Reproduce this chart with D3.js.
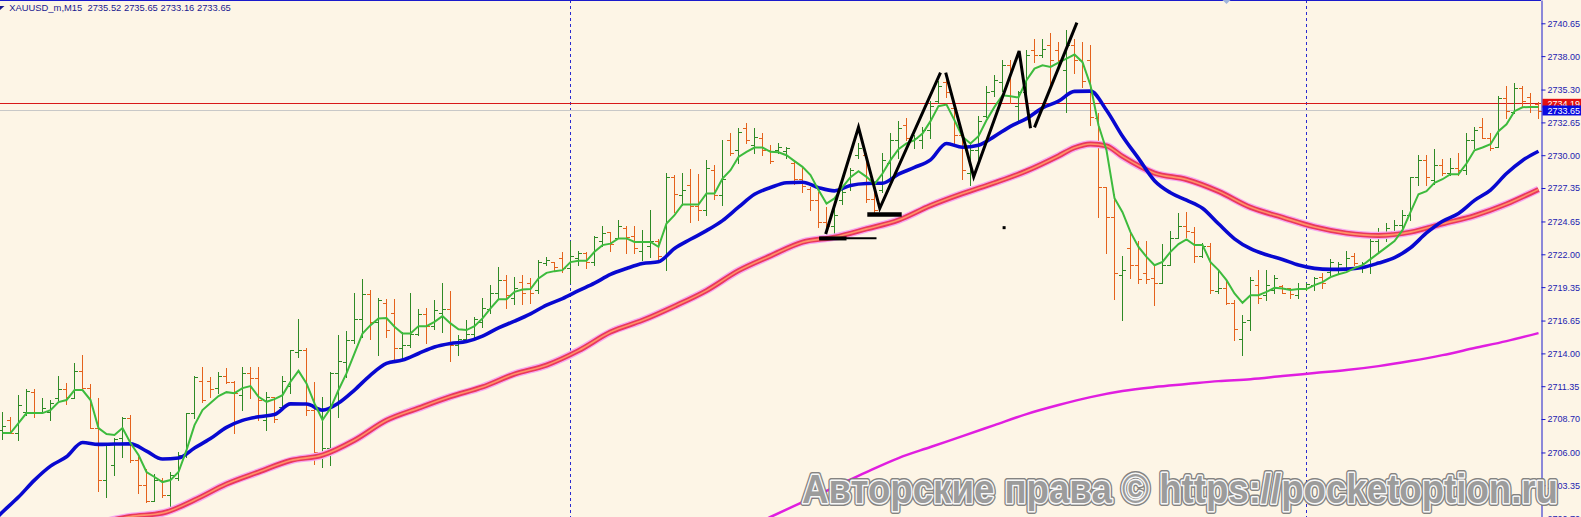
<!DOCTYPE html>
<html><head><meta charset="utf-8">
<script src="https://cdn.jsdelivr.net/npm/d3@7"></script>
<style>html,body{margin:0;padding:0;background:#fdf5e6;overflow:hidden}</style>
</head><body><svg id="c" width="1581" height="517"></svg>
<script>
const symbolTitle = "XAUUSD_m,M15  2735.52 2735.65 2733.16 2733.65";
const priceTicks = [2740.65,2738.00,2735.30,2732.65,2730.00,2727.35,2724.65,2722.00,2719.35,2716.65,2714.00,2711.35,2708.70,2706.00,2703.35,2700.70];
const askPrice = 2734.19;
const bidPrice = 2733.65;
const daySeparators = [71, 163];

const barOpen = [
2707.8,2708.6,2707.6,2709.3,2710.9,2709.3,2709.3,2710.4,2711.1,2710.4,
2712.6,2711.2,2708.0,2703.8,2705.0,2707.2,2708.8,2705.4,2703.4,2702.1,
2703.8,2702.6,2703.9,2705.8,2709.2,2711.8,2711.8,2711.2,2712.2,2711.7,
2710.6,2712.4,2712.0,2708.6,2710.5,2709.7,2711.4,2714.1,2714.3,2709.4,
2706.0,2706.4,2712.4,2713.3,2715.1,2716.8,2718.8,2716.5,2718.1,2717.3,
2714.4,2714.7,2715.6,2717.2,2716.2,2717.3,2717.6,2714.7,2715.2,2715.6,
2716.5,2717.6,2718.9,2719.9,2718.5,2719.8,2719.7,2719.1,2721.3,2721.4,
2721.7,2720.9,2721.7,2722.1,2721.4,2723.1,2723.8,2723.3,2724.1,2723.5,
2722.3,2722.7,2723.1,2721.7,2728.2,2726.8,2727.6,2725.9,2725.6,2728.8,
2726.8,2731.2,2730.4,2732.2,2730.8,2731.4,2730.4,2730.4,2730.3,2729.4,
2728.1,2727.3,2726.4,2724.6,2724.3,2726.4,2727.6,2730.0,2730.0,2726.5,
2727.2,2729.4,2731.2,2732.4,2731.2,2731.2,2732.0,2734.4,2735.9,2733.8,
2731.6,2728.6,2730.4,2733.2,2735.2,2735.9,2737.3,2734.0,2735.1,2738.5,
2738.1,2738.9,2738.5,2736.9,2738.9,2737.7,2737.7,2733.0,2727.4,2725.0,
2720.3,2722.5,2721.1,2720.5,2720.1,2719.7,2721.1,2723.3,2724.3,2723.8,
2721.9,2722.7,2719.0,2719.3,2718.1,2715.2,2716.7,2719.5,2718.7,2719.1,
2719.4,2719.3,2718.7,2719.3,2719.5,2720.2,2720.6,2720.7,2720.9,2721.9,
2721.0,2721.1,2723.1,2723.8,2723.9,2724.4,2725.2,2728.2,2729.6,2728.0,
2729.2,2728.6,2729.0,2728.8,2731.2,2732.3,2731.4,2730.7,2734.6,2733.5,
2735.4,2734.7,2734.1];
const barHigh = [
2709.3,2708.9,2710.6,2711.1,2711.1,2710.4,2710.2,2712.2,2711.6,2713.2,
2713.9,2711.5,2710.4,2706.8,2707.2,2708.9,2709.0,2705.6,2704.7,2704.3,
2703.9,2704.4,2706.0,2709.2,2712.2,2712.9,2712.1,2712.5,2712.8,2711.8,
2712.9,2712.9,2712.9,2710.9,2710.5,2712.2,2714.3,2716.8,2714.4,2711.7,
2710.5,2712.5,2715.5,2715.8,2718.9,2720.0,2719.1,2718.5,2718.4,2718.4,
2715.7,2718.9,2717.6,2717.7,2718.3,2719.7,2719.0,2715.5,2716.7,2716.9,
2718.5,2719.5,2721.0,2720.3,2720.2,2720.3,2720.1,2721.5,2721.8,2721.4,
2722.2,2723.1,2722.3,2722.2,2723.5,2724.3,2723.8,2724.8,2724.3,2724.3,
2724.0,2725.6,2723.2,2728.6,2728.4,2728.6,2728.9,2728.5,2729.6,2729.2,
2731.2,2731.8,2732.2,2732.6,2732.2,2731.8,2730.8,2731.0,2730.7,2729.6,
2729.0,2727.4,2727.0,2725.8,2726.1,2727.2,2729.0,2731.0,2730.2,2727.0,
2730.2,2731.8,2732.8,2733.0,2731.6,2732.3,2734.4,2736.0,2736.5,2734.0,
2731.8,2731.0,2733.2,2735.6,2736.5,2737.7,2737.7,2735.2,2738.5,2739.4,
2739.4,2739.9,2739.1,2740.1,2739.4,2739.1,2738.9,2733.4,2727.4,2726.9,
2721.9,2723.8,2723.1,2723.1,2721.1,2722.8,2723.9,2725.3,2725.4,2724.2,
2722.9,2722.9,2720.7,2719.9,2718.3,2717.1,2720.2,2720.7,2720.7,2720.3,
2719.5,2719.3,2719.7,2719.7,2720.2,2720.5,2721.6,2721.4,2722.3,2722.1,
2721.4,2723.3,2724.1,2724.5,2724.8,2725.6,2728.2,2730.0,2730.0,2730.5,
2729.7,2729.8,2730.2,2731.8,2732.3,2733.0,2731.8,2734.8,2735.6,2735.8,
2735.6,2735.0,2734.3];
const barLow = [
2707.1,2707.6,2707.0,2709.0,2708.9,2709.2,2708.6,2710.2,2709.9,2710.4,
2711.1,2708.0,2702.9,2702.4,2704.2,2705.6,2705.2,2702.7,2702.0,2702.1,
2702.4,2701.5,2703.8,2705.6,2708.8,2710.1,2710.5,2710.8,2711.6,2707.6,
2709.4,2710.4,2708.6,2707.8,2708.5,2709.7,2710.8,2713.7,2709.0,2705.1,
2704.8,2705.0,2708.9,2712.1,2714.8,2715.3,2715.2,2713.9,2715.3,2713.4,
2713.6,2714.5,2715.5,2714.8,2716.0,2715.7,2713.4,2713.9,2715.1,2715.3,
2716.1,2717.3,2718.5,2717.7,2718.0,2718.0,2718.1,2718.9,2721.1,2720.7,
2720.6,2719.7,2721.1,2720.9,2721.1,2722.7,2722.3,2723.3,2722.1,2722.1,
2721.5,2721.8,2721.5,2720.7,2725.4,2726.0,2724.6,2724.8,2725.2,2726.5,
2726.0,2730.0,2729.4,2731.0,2730.2,2730.0,2729.4,2730.2,2729.8,2727.7,
2727.0,2725.6,2724.2,2723.9,2723.5,2726.1,2727.2,2729.8,2726.2,2725.3,
2727.0,2728.2,2729.8,2731.2,2730.6,2730.6,2731.4,2734.2,2734.7,2731.0,
2728.1,2727.6,2729.6,2733.1,2734.8,2735.2,2734.2,2732.8,2734.7,2737.5,
2737.9,2735.5,2737.3,2733.5,2736.6,2735.5,2732.4,2725.0,2722.1,2718.4,
2716.7,2720.1,2719.7,2719.7,2717.9,2719.7,2721.1,2723.3,2723.4,2721.4,
2721.8,2718.9,2718.9,2718.0,2715.1,2713.9,2715.9,2718.1,2718.3,2718.9,
2718.9,2718.5,2718.5,2719.1,2719.1,2719.3,2720.3,2720.5,2720.9,2721.1,
2720.6,2720.5,2722.3,2723.1,2723.7,2723.9,2724.8,2727.6,2727.6,2727.7,
2728.4,2728.4,2728.4,2728.5,2730.6,2731.4,2730.4,2730.7,2733.0,2733.4,
2734.0,2733.5,2733.0];
const barClose = [
2708.1,2707.6,2709.8,2711.0,2709.2,2709.6,2710.0,2711.1,2710.5,2712.6,
2711.2,2708.0,2703.8,2706.6,2707.1,2708.8,2705.4,2703.4,2702.1,2703.8,
2702.6,2704.2,2705.8,2709.2,2712.1,2710.2,2711.1,2712.2,2711.7,2710.8,
2712.4,2712.0,2710.2,2710.5,2708.7,2711.8,2714.3,2714.3,2709.4,2706.0,
2706.4,2712.4,2713.4,2715.1,2716.8,2718.8,2716.5,2718.3,2715.9,2714.4,
2714.7,2715.6,2717.2,2716.2,2717.5,2717.6,2714.7,2715.2,2715.6,2716.8,
2717.7,2718.9,2719.9,2718.7,2719.3,2718.9,2718.9,2721.4,2721.5,2721.0,
2720.9,2721.9,2722.1,2721.4,2723.4,2723.7,2722.8,2724.3,2723.4,2722.5,
2723.0,2723.1,2721.9,2728.2,2726.9,2727.2,2725.9,2725.6,2729.0,2726.8,
2728.1,2730.2,2731.9,2731.2,2731.5,2730.4,2729.5,2730.7,2730.6,2728.1,
2727.5,2726.4,2724.6,2724.3,2725.2,2727.0,2728.8,2730.6,2726.5,2725.6,
2729.6,2731.2,2732.2,2731.4,2731.4,2732.0,2734.0,2735.6,2735.1,2731.6,
2728.8,2730.4,2732.8,2735.1,2736.1,2737.3,2734.8,2735.1,2738.1,2738.1,
2738.6,2737.7,2737.7,2738.9,2737.7,2736.0,2733.1,2727.4,2725.0,2720.5,
2720.7,2721.1,2720.0,2720.0,2719.7,2721.1,2723.3,2724.3,2723.9,2721.9,
2722.7,2719.1,2719.3,2718.1,2716.0,2716.5,2719.9,2718.5,2719.5,2720.1,
2718.9,2718.8,2719.3,2719.6,2720.1,2719.7,2721.4,2721.2,2721.7,2721.3,
2721.3,2723.1,2723.8,2724.1,2724.4,2725.2,2728.2,2729.6,2728.2,2729.2,
2728.6,2729.0,2728.8,2731.2,2732.0,2731.4,2730.6,2734.6,2733.6,2735.4,
2734.4,2733.9,2733.6];

// fast moving average (green), one value per bar
const emaFast = [
2707.57,2707.57,2708.37,2709.18,2709.18,2709.18,2709.42,2710.07,2710.23,2711.04,
2711.04,2710.23,2707.97,2707.49,2707.41,2707.97,2706.76,2705.79,2704.42,2704.02,
2703.61,2703.77,2704.42,2706.19,2708.21,2709.42,2709.99,2710.55,2710.87,2710.79,
2711.2,2711.36,2710.5,2710.09,2710.31,2710.63,2711.71,2712.59,2711.58,2709.96,
2708.62,2709.56,2711.04,2712.38,2714.0,2715.61,2716.28,2716.82,2716.85,2716.15,
2715.61,2715.61,2716.2,2716.2,2716.55,2717.01,2716.42,2715.94,2715.88,2716.2,
2716.82,2717.63,2718.36,2718.36,2718.97,2719.16,2719.19,2720.05,2720.5,2720.64,
2720.72,2721.37,2721.47,2721.47,2722.2,2722.74,2722.86,2723.28,2723.28,2723.0,
2723.0,2723.0,2722.6,2724.49,2725.16,2726.02,2726.02,2726.02,2726.91,2726.91,
2728.12,2728.79,2729.86,2730.27,2730.62,2730.62,2730.27,2730.24,2730.0,2729.52,
2729.06,2728.39,2727.18,2726.1,2726.51,2727.42,2728.23,2728.71,2728.25,2727.66,
2728.52,2729.6,2730.49,2730.95,2731.21,2731.74,2732.75,2733.96,2734.09,2732.82,
2731.48,2730.95,2731.53,2732.82,2733.9,2734.84,2734.76,2734.66,2736.05,2736.99,
2737.26,2737.13,2737.47,2737.8,2738.13,2737.51,2735.65,2732.42,2730.4,2726.53,
2725.4,2723.79,2722.6,2721.79,2721.12,2721.39,2722.2,2722.82,2723.2,2722.74,
2722.74,2721.37,2720.72,2719.91,2718.84,2718.08,2718.7,2718.7,2718.97,2719.29,
2719.24,2719.11,2719.19,2719.19,2719.51,2719.75,2720.16,2720.39,2720.56,2720.88,
2721.12,2721.61,2722.09,2722.58,2723.06,2723.95,2725.4,2726.85,2727.09,2727.77,
2728.06,2728.47,2728.47,2729.33,2730.4,2730.62,2730.89,2731.94,2732.5,2733.55,
2733.87,2733.9,2733.9];

// medium moving average (blue): [bar, price]
const emaMid = [
[-2,2699.9],[0,2701.19],[2,2702.4],[4,2703.77],[6,2704.9],[8,2705.65],[10,2706.8],[12,2706.65],[14,2706.68],[16,2706.69],
[18,2706.11],[20,2705.47],[22,2705.55],[24,2706.36],[26,2707.12],[28,2708.03],[30,2708.59],[32,2708.88],[34,2709.06],[36,2709.92],
[38,2709.91],[40,2709.42],[42,2709.99],[44,2711.04],[46,2712.25],[48,2713.19],[50,2713.46],[52,2713.99],[54,2714.52],[56,2714.8],
[58,2714.95],[60,2715.39],[62,2716.06],[64,2716.6],[66,2717.19],[68,2717.9],[70,2718.42],[72,2719.06],[74,2719.67],[76,2720.37],
[78,2720.85],[80,2721.25],[82,2721.39],[84,2722.46],[86,2723.21],[88,2723.91],[90,2724.72],[92,2725.8],[94,2726.84],[96,2727.39],
[98,2727.78],[100,2727.82],[102,2727.38],[104,2727.12],[106,2727.56],[108,2727.72],[110,2727.74],[112,2728.47],[114,2729.01],[116,2729.62],
[118,2730.95],[120,2730.64],[122,2730.81],[124,2731.52],[126,2732.33],[128,2732.95],[130,2733.82],[132,2734.36],[134,2735.15],[136,2735.17],
[138,2733.63],[140,2731.53],[142,2729.74],[144,2727.94],[146,2726.97],[148,2726.37],[150,2725.72],[152,2724.46],[154,2723.25],[156,2722.45],
[158,2721.96],[160,2721.58],[162,2721.13],[164,2720.86],[166,2720.78],[168,2720.8],[170,2720.93],[172,2721.29],[174,2721.73],[176,2722.53],
[178,2723.72],[180,2724.67],[182,2725.3],[184,2726.35],[186,2727.19],[188,2728.52],[190,2729.58],[192,2730.32]];

// slow moving average (red): [bar, price]
const emaSlow = [
[12,2700.30],[16,2700.83],[20,2701.11],[24,2702.16],[28,2703.45],[32,2704.42],[36,2705.35],[40,2705.79],[44,2706.99],[48,2708.6],
[52,2709.58],[56,2710.51],[60,2711.29],[64,2712.33],[68,2713.05],[72,2714.22],[76,2715.72],[80,2716.67],[84,2717.81],[88,2719.07],
[92,2720.68],[96,2721.87],[100,2722.98],[104,2723.38],[108,2724.05],[112,2724.76],[116,2725.93],[120,2726.9],[124,2727.77],[128,2728.73],
[132,2729.94],[134,2730.6],[136,2730.91],[138,2730.75],[140,2729.9],[144,2728.55],[148,2728.04],[152,2727.08],[156,2725.79],[160,2724.98],
[164,2724.21],[168,2723.71],[172,2723.52],[176,2723.79],[180,2724.46],[184,2725.12],[188,2726.06],[192,2727.24]];

// long moving average (magenta): [bar, price]
const emaLong = [
[92,2699.58],[96,2700.79],[100,2702.0],[104,2703.21],[108,2704.42],[112,2705.55],[116,2706.44],[120,2707.32],[124,2708.21],[128,2709.1],
[132,2709.83],[136,2710.47],[140,2710.96],[144,2711.28],[148,2711.52],[152,2711.76],[156,2711.92],[160,2712.17],[164,2712.41],[168,2712.65],
[172,2712.97],[176,2713.38],[180,2713.86],[184,2714.43],[188,2714.99],[192,2715.64]];

// hand-drawn annotations: [bar, price]
const drawnZigzags = [
[[102.9,2723.64],[107.0,2732.25],[109.66,2725.71],[117.25,2736.66]],
[[117.9,2736.66],[121.4,2728.26],[127.08,2738.41],[128.5,2732.17]],
[[129.0,2732.25],[134.3,2740.70]]];
const drawnLevels = [[102.08,109.25,2723.29],[102.08,105.5,2723.28],[108.1,112.4,2725.21]];
const drawnDot = [125.2,2724.15];
const watermark = "Авторские права © https://pocketoption.ru";

// ---------- drawing ----------
const W = 1581, H = 517, plotRight = 1541;
const svg = d3.select('#c');
const x = d3.scaleLinear().domain([0, 192]).range([2.5, 1538.5]);
const y = d3.scaleLinear().domain([2700.79, 2742.53]).range([H, 0]);
const px = v => Math.floor(x(v)) + 0.5;
const py = v => Math.round(y(v)) + 0.5;

svg.append('rect').attr('width', W).attr('height', H).attr('fill', '#fdf5e6');

const plot = svg.append('g');
// day separators
plot.selectAll('line.sep').data(daySeparators).join('line')
  .attr('x1', d => px(d)).attr('x2', d => px(d)).attr('y1', 0).attr('y2', H)
  .attr('stroke', '#2a2ad0').attr('stroke-width', 1).attr('stroke-dasharray', '3,3');

// bid/ask lines
plot.append('line').attr('x1', 0).attr('x2', plotRight).attr('y1', py(bidPrice)).attr('y2', py(bidPrice))
  .attr('stroke', '#c8c8c8').attr('stroke-width', 1);
plot.append('line').attr('x1', 0).attr('x2', plotRight).attr('y1', py(askPrice)).attr('y2', py(askPrice))
  .attr('stroke', '#d81818').attr('stroke-width', 1);

// OHLC bars
const bars = d3.range(barOpen.length).map(i => ({i, o: barOpen[i], h: barHigh[i], l: barLow[i], c: barClose[i]}));
const bg = plot.append('g').attr('stroke-width', 1);
bars.forEach(b => {
  const col = b.c >= b.o ? '#2f8a26' : '#e4621c';
  const cx = px(b.i);
  const g = bg.append('g').attr('stroke', col);
  g.append('line').attr('x1', cx).attr('x2', cx).attr('y1', Math.round(y(b.h))).attr('y2', Math.round(y(b.l)) + 1);
  g.append('line').attr('x1', cx - 3.5).attr('x2', cx).attr('y1', py(b.o)).attr('y2', py(b.o));
  g.append('line').attr('x1', cx).attr('x2', cx + 3.5).attr('y1', py(b.c)).attr('y2', py(b.c));
});

// moving averages
const lineP = d3.line().x(d => x(d[0])).y(d => y(d[1])).curve(d3.curveMonotoneX);
plot.append('path').attr('d', lineP(emaLong)).attr('fill', 'none').attr('stroke', '#e01ee0').attr('stroke-width', 2.5);
plot.append('path').attr('d', lineP(emaSlow)).attr('fill', 'none').attr('stroke', '#f6a6f0').attr('stroke-width', 7.5);
plot.append('path').attr('d', lineP(emaSlow)).attr('fill', 'none').attr('stroke', '#e8385c').attr('stroke-width', 5);
plot.append('path').attr('d', lineP(emaSlow)).attr('fill', 'none').attr('stroke', '#ff9466').attr('stroke-width', 1.6);
plot.append('path').attr('d', lineP(emaMid)).attr('fill', 'none').attr('stroke', '#0808d0').attr('stroke-width', 3.6);
const lineF = d3.line().x((d, i) => x(i)).y(d => y(d));
plot.append('path').attr('d', lineF(emaFast)).attr('fill', 'none').attr('stroke', '#3dbb3d').attr('stroke-width', 2);

// annotations
const lineA = d3.line().x(d => x(d[0])).y(d => y(d[1]));
drawnZigzags.forEach(z => plot.append('path').attr('d', lineA(z)).attr('fill', 'none')
  .attr('stroke', '#000').attr('stroke-width', 3).attr('stroke-linejoin', 'miter'));
const levelWidths = [2, 4, 4.5];
drawnLevels.forEach((l, k) => plot.append('line').attr('x1', x(l[0])).attr('x2', x(l[1]))
  .attr('y1', y(l[2])).attr('y2', y(l[2])).attr('stroke', '#000').attr('stroke-width', levelWidths[k]));
plot.append('rect').attr('x', x(drawnDot[0]) - 1.5).attr('y', y(drawnDot[1]) - 1.5).attr('width', 3).attr('height', 3).attr('fill', '#000');

// top border
svg.append('line').attr('x1', 0).attr('x2', plotRight).attr('y1', 0.5).attr('y2', 0.5).attr('stroke', '#1a1acc');
// small marker at top
svg.append('path').attr('d', `M${x(153) - 4},0L${x(153) + 4},0L${x(153)},4Z`).attr('fill', '#9fb4dc');

// price axis
const axis = d3.axisRight(y).tickValues(priceTicks).tickSize(4).tickSizeOuter(0).tickPadding(2)
  .tickFormat(d3.format('.2f'));
const ag = svg.append('g').attr('transform', `translate(${plotRight + 0.5},0)`).call(axis)
  .attr('font-family', '"Liberation Sans", Arial, sans-serif').attr('font-size', 9);
ag.select('.domain').attr('stroke', '#1a1acc');
ag.selectAll('.tick line').attr('stroke', '#1a1acc');
ag.selectAll('.tick text').attr('fill', '#1c1cb0');

// price labels
const tagFont = '"Liberation Sans", Arial, sans-serif';
svg.append('rect').attr('x', plotRight + 1.5).attr('y', y(askPrice) - 4.5).attr('width', W - plotRight).attr('height', 9).attr('fill', '#e41010');
svg.append('text').attr('x', plotRight + 6.5).attr('y', y(askPrice) + 3.2).attr('font-family', tagFont).attr('font-size', 9)
  .attr('fill', '#ffffff').text(d3.format('.2f')(askPrice));
svg.append('rect').attr('x', plotRight + 1.5).attr('y', y(bidPrice) - 4.5).attr('width', W - plotRight).attr('height', 10).attr('fill', '#0a0ae0');
svg.append('text').attr('x', plotRight + 6.5).attr('y', y(bidPrice) + 3.6).attr('font-family', tagFont).attr('font-size', 9)
  .attr('fill', '#ffffff').text(d3.format('.2f')(bidPrice));

// title
svg.append('path').attr('d', 'M0,6L4.5,6L0,10Z').attr('fill', '#1a1a90');
svg.append('text').attr('x', 9.3).attr('y', 10.8).attr('font-family', tagFont).attr('font-size', 9.4)
  .attr('fill', '#1a1a90').style('white-space', 'pre').text(symbolTitle);

// watermark
const wm = svg.append('g').attr('font-family', '"Liberation Sans", Arial, sans-serif').attr('font-weight', 'bold').attr('font-size', 41);
wm.append('text').attr('x', 802).attr('y', 503).attr('textLength', 756).attr('lengthAdjust', 'spacingAndGlyphs')
  .attr('fill', '#777').attr('stroke', '#777').attr('stroke-width', 6).attr('stroke-linejoin', 'round').attr('opacity', 0.9).text(watermark);
wm.append('text').attr('x', 802).attr('y', 503).attr('textLength', 756).attr('lengthAdjust', 'spacingAndGlyphs')
  .attr('fill', '#9c9c9c').attr('stroke', '#f8f8f8').attr('stroke-width', 3).attr('paint-order', 'stroke')
  .attr('stroke-linejoin', 'round').text(watermark);
</script></body></html>
